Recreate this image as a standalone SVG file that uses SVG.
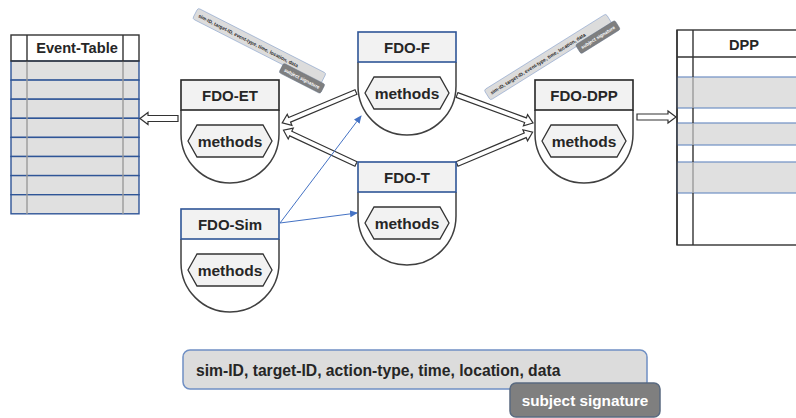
<svg xmlns="http://www.w3.org/2000/svg" width="796" height="418" viewBox="0 0 796 418">
  <style>
    text { font-family: "Liberation Sans", Arial, sans-serif; font-weight: bold; fill: #262626; }
    .hdr { font-size: 15px; text-anchor: middle; }
    .mth { font-size: 15.5px; text-anchor: middle; }
    .body { fill: #ffffff; stroke: #404040; stroke-width: 1.5; }
    .head { fill: #f2f2f2; stroke-width: 1.6; }
    .head-k { stroke: #262626; }
    .head-b { stroke: #2f5597; }
    .hex { fill: #f2f2f2; stroke: #333333; stroke-width: 1.3; }
    .row { fill: #e0e0e0; stroke: #2f5597; stroke-width: 1.4; }
    .rowl { fill: #e0e0e0; stroke: #6f8fc4; stroke-width: 1.2; }
    .grid { stroke: #333333; stroke-width: 1.4; fill: none; }
    .gridg { stroke: #9a9a9a; stroke-width: 1.4; }
    .hollow { fill: #ffffff; stroke: #333333; stroke-width: 1.2; }
    .blue { stroke: #4472c4; stroke-width: 1; fill: none; }
    .lbl-box { fill: #dcdcdc; stroke: #6f8fc4; stroke-width: 1.5; }
    .lbl-tab { fill: #7f7f7f; stroke: #5a6a80; stroke-width: 1.5; }
    .lbl-txt { font-size: 15.7px; }
    .tab-txt { font-size: 15.3px; fill: #ffffff; text-anchor: middle; }
  </style>
  <defs>
    <marker id="blue-head" markerWidth="8" markerHeight="8" refX="7" refY="4" orient="auto" markerUnits="userSpaceOnUse">
      <path d="M0,0.5 L8,4 L0,7.5 Z" fill="#4472c4"/>
    </marker>
    <!-- shield-shaped object body, header on top -->
    <path id="shield" d="M0,30 V54 A49,49 0 0 0 98,54 V30"/>
    <polygon id="hexagon" points="7,61 16,45 82,45 91,61 82,77 16,77"/>
  </defs>

  <!-- Event table on the left -->
  <g id="event-table">
    <rect class="row" x="11" y="61" width="128" height="19.1"/>
    <rect class="row" x="11" y="80.1" width="128" height="19.1"/>
    <rect class="row" x="11" y="99.2" width="128" height="19.1"/>
    <rect class="row" x="11" y="118.3" width="128" height="19.1"/>
    <rect class="row" x="11" y="137.4" width="128" height="19.1"/>
    <rect class="row" x="11" y="156.5" width="128" height="19.1"/>
    <rect class="row" x="11" y="175.6" width="128" height="19.1"/>
    <rect class="row" x="11" y="194.7" width="128" height="19.1"/>
    <line class="gridg" x1="27" y1="61" x2="27" y2="214"/>
    <line class="gridg" x1="123" y1="61" x2="123" y2="214"/>
    <rect class="grid" x="11" y="35" width="128" height="26" fill="#ffffff"/>
    <line class="grid" x1="27" y1="35" x2="27" y2="61"/>
    <line class="grid" x1="123" y1="35" x2="123" y2="61"/>
    <text x="77" y="53" font-size="14.6" text-anchor="middle">Event-Table</text>
  </g>

  <!-- DPP table on the right (runs past the edge) -->
  <g id="dpp-table">
    <rect class="grid" x="677" y="30" width="130" height="215" fill="#ffffff"/>
    <line class="grid" x1="677" y1="57" x2="807" y2="57"/>
    <rect class="rowl" x="677" y="77" width="130" height="31"/>
    <rect class="rowl" x="677" y="123" width="130" height="22"/>
    <rect class="rowl" x="677" y="162" width="130" height="31"/>
    <line class="grid" x1="693" y1="30" x2="693" y2="77"/>
    <line class="gridg" x1="693" y1="77" x2="693" y2="108"/>
    <line class="grid" x1="693" y1="108" x2="693" y2="123"/>
    <line class="gridg" x1="693" y1="123" x2="693" y2="145"/>
    <line class="grid" x1="693" y1="145" x2="693" y2="162"/>
    <line class="gridg" x1="693" y1="162" x2="693" y2="193"/>
    <line class="grid" x1="693" y1="193" x2="693" y2="245"/>
    <line class="grid" x1="677" y1="30" x2="677" y2="245"/>
    <text x="744" y="50" font-size="14.6" text-anchor="middle">DPP</text>
  </g>

  <!-- connectors -->
  <g id="connectors">
    <polygon class="hollow" points="140,118.5 148,112.5 148,115.5 178,115.5 178,121.5 148,121.5 148,124.5"/>
    <polygon class="hollow" points="676,117 668,111 668,114 637,114 637,120 668,120 668,123"/>
    <polygon class="hollow" transform="translate(356,92) rotate(157.3)" points="0,-2.5 72,-2.5 72,-6 80,0 72,6 72,2.5 0,2.5"/>
    <polygon class="hollow" transform="translate(356,164) rotate(-155)" points="0,-2.5 72,-2.5 72,-6 80,0 72,6 72,2.5 0,2.5"/>
    <polygon class="hollow" transform="translate(457,95) rotate(20.2)" points="0,-2.5 73,-2.5 73,-6 81,0 73,6 73,2.5 0,2.5"/>
    <polygon class="hollow" transform="translate(457,164) rotate(-22.8)" points="0,-2.5 74,-2.5 74,-6 82,0 74,6 74,2.5 0,2.5"/>
    <line class="blue" x1="280" y1="223" x2="361" y2="116" marker-end="url(#blue-head)"/>
    <line class="blue" x1="280" y1="223" x2="357" y2="213" marker-end="url(#blue-head)"/>
  </g>

  <!-- objects -->
  <g id="fdo-et" transform="translate(181,80)">
    <use href="#shield" class="body"/>
    <rect class="head head-k" x="0" y="0" width="98" height="30"/>
    <text class="hdr" x="49" y="21">FDO-ET</text>
    <use href="#hexagon" class="hex"/>
    <text class="mth" x="49" y="66.5">methods</text>
  </g>

  <g id="fdo-f" transform="translate(358,32)">
    <use href="#shield" class="body"/>
    <rect class="head head-b" x="0" y="0" width="98" height="30"/>
    <text class="hdr" x="49" y="21">FDO-F</text>
    <use href="#hexagon" class="hex"/>
    <text class="mth" x="49" y="66.5">methods</text>
  </g>

  <g id="fdo-t" transform="translate(358,162)">
    <use href="#shield" class="body"/>
    <rect class="head head-b" x="0" y="0" width="98" height="30"/>
    <text class="hdr" x="49" y="21">FDO-T</text>
    <use href="#hexagon" class="hex"/>
    <text class="mth" x="49" y="66.5">methods</text>
  </g>

  <g id="fdo-sim" transform="translate(181,209)">
    <use href="#shield" class="body"/>
    <rect class="head head-b" x="0" y="0" width="98" height="30"/>
    <text class="hdr" x="49" y="21">FDO-Sim</text>
    <use href="#hexagon" class="hex"/>
    <text class="mth" x="49" y="66.5">methods</text>
  </g>

  <g id="fdo-dpp" transform="translate(535,80)">
    <use href="#shield" class="body"/>
    <rect class="head head-k" x="0" y="0" width="98" height="30"/>
    <text class="hdr" x="49" y="21">FDO-DPP</text>
    <use href="#hexagon" class="hex"/>
    <text class="mth" x="49" y="66.5">methods</text>
  </g>

  <!-- message labels -->
  <g id="msg-et" transform="translate(198,8) rotate(27) scale(0.31)">
    <rect class="lbl-box" x="0" y="0" width="464" height="39" rx="7"/>
    <text class="lbl-txt" x="13" y="26">sim-ID, target-ID, event-type, time, location, data</text>
    <rect class="lbl-tab" x="327" y="33" width="150" height="34" rx="6"/>
    <text class="tab-txt" x="402" y="56">subject signature</text>
  </g>

  <g id="msg-dpp" transform="translate(484,90) rotate(-32) scale(0.31)">
    <rect class="lbl-box" x="0" y="0" width="464" height="39" rx="7"/>
    <text class="lbl-txt" x="13" y="26">sim-ID, target-ID, event-type, time, location, data</text>
    <rect class="lbl-tab" x="327" y="33" width="150" height="34" rx="6"/>
    <text class="tab-txt" x="402" y="56">subject signature</text>
  </g>

  <g id="msg-sim" transform="translate(183,350)">
    <rect class="lbl-box" x="0" y="0" width="464" height="39" rx="7"/>
    <text class="lbl-txt" x="13" y="26">sim-ID, target-ID, action-type, time, location, data</text>
    <rect class="lbl-tab" x="327" y="33" width="150" height="34" rx="6"/>
    <text class="tab-txt" x="402" y="56">subject signature</text>
  </g>
</svg>
